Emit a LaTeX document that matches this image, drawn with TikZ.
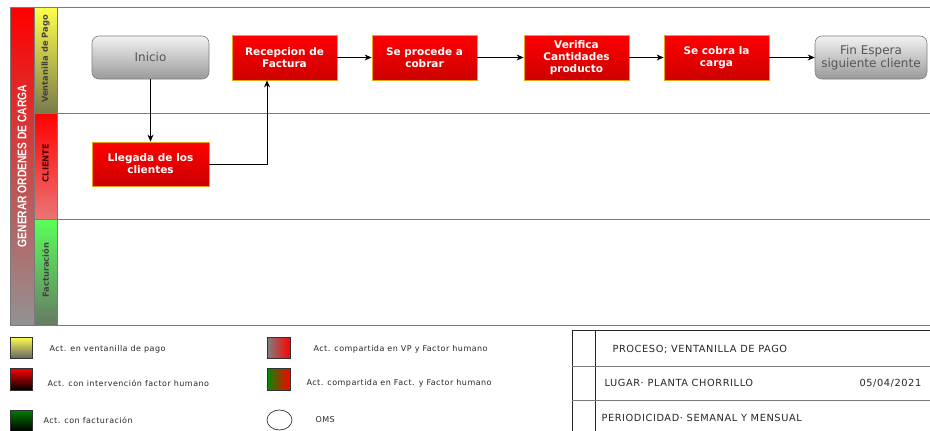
\documentclass[tikz,border=0pt]{standalone}
\usepackage{fontspec}
\setmainfont{DejaVu Sans}
\newfontfamily\headfont[FakeStretch=0.82]{Liberation Sans}
\newfontfamily\wideface[LetterSpace=6]{DejaVu Sans}
\usetikzlibrary{arrows.meta}

\definecolor{lanegrid}{HTML}{7A7A7A}
\definecolor{actred}{HTML}{FF0000}
\definecolor{actreddark}{HTML}{CC0000}
\definecolor{actborder}{HTML}{E8A317}
\definecolor{termtop}{HTML}{F2F2F2}
\definecolor{termbot}{HTML}{9A9A9A}
\definecolor{termtext}{HTML}{555555}

\begin{document}
\begin{tikzpicture}[x=1pt,y=-1pt,
  act/.style={draw=actborder, line width=0.8pt, top color=actred, bottom color=actreddark,
    text=white, font=\bfseries\fontsize{10.5}{12}\selectfont, align=center,
    minimum width=105pt, minimum height=45pt, inner sep=1pt},
  term/.style={draw=gray, line width=0.6pt, rounded corners=7pt, top color=termtop, bottom color=termbot,
    text=termtext, font=\fontsize{12}{13.5}\selectfont, align=center,
    minimum width=117pt, minimum height=43pt, inner sep=1pt},
  flow/.style={-{Stealth[length=7pt,width=6pt]}, line width=0.8pt, black},
  grid/.style={draw=lanegrid, line width=0.9pt},
  lanelabel/.style={rotate=90, font=\bfseries\fontsize{8.3}{10}\selectfont, text=black!75},
  legtext/.style={anchor=west, font=\wideface\fontsize{8}{9}\selectfont, text=black!85},
  tabtext/.style={anchor=west, font=\wideface\fontsize{9.8}{11}\selectfont, text=black!85},
  swatch/.style={draw=black!80, line width=0.6pt}
]
\useasboundingbox (0,0) rectangle (930,431);

% ---- pool header and lane headers ----
\shade[top color=red, bottom color=gray!85] (10,7) rectangle (34,325);
\shade[top color=yellow!70, bottom color=black!55!yellow!40!gray] (34,7) rectangle (57,113);
\shade[top color=red, bottom color=red!55!white!85!gray] (34,113) rectangle (57,219);
\shade[top color=green!65, bottom color=black!60!green!20!gray] (34,219) rectangle (57,325);

\node[rotate=90, text=white, font=\headfont\bfseries\fontsize{12.5}{13}\selectfont] (pool) at (22,166) {GENERAR ORDENES DE CARGA};
\node[lanelabel] (lvp) at (45.5,59) {Ventanilla de Pago};
\node[lanelabel, text=black!70!red] (lcl) at (45.5,163) {CLIENTE};
\node[lanelabel] (lfa) at (45.5,270) {Facturación};

% ---- lane lines ----
\draw[grid] (10,7) -- (930,7);
\draw[grid] (34,113) -- (930,113);
\draw[grid] (34,219) -- (930,219);
\draw[grid] (10,325) -- (930,325);
\draw[grid] (10,7) -- (10,325);
\draw[grid] (34,7) -- (34,325);
\draw[grid] (57,7) -- (57,325);

% ---- activities ----
\node[term] (inicio) at (150.5,57.5) {Inicio};
\node[act]  (recep)  at (284.5,57.5) {Recepcion de\\Factura};
\node[act]  (cobrar) at (424.5,57.5) {Se procede a\\cobrar};
\node[act]  (verif)  at (576.5,57.5) {Verifica\\Cantidades\\producto};
\node[act]  (cobra)  at (716.5,57.5) {Se cobra la\\carga};
\node[term, minimum width=112pt] (fin) at (871,57.5) {Fin Espera\\siguiente cliente};
\node[act, minimum width=117pt, minimum height=44pt] (lleg) at (150.5,164) {Llegada de los\\clientes};

% ---- connectors ----
\draw[flow] (inicio) -- (lleg);
\draw[flow] (lleg.east) -| ([xshift=-17.5pt]recep.south);
\draw[flow] (recep) -- (cobrar);
\draw[flow] (cobrar) -- (verif);
\draw[flow] (verif) -- (cobra);
\draw[flow] (cobra) -- (fin);

% ---- legend ----
\shade[swatch, top color=yellow!70, bottom color=gray!80!black] (10,337) rectangle (32,358);
\shade[swatch, top color=red, bottom color=black] (10,368) rectangle (32,390);
\shade[swatch, top color=green!50!black, bottom color=black] (10,410) rectangle (32,431);
\shade[swatch, left color=gray, right color=red] (267,337) rectangle (290,358);
\shade[swatch, left color=green!55!black, right color=red] (267,368) rectangle (290,390);
\draw[black!80, line width=0.7pt] (279.5,420) ellipse (12.5 and 10);

\node[legtext] (lg1) at (46,349) {Act. en ventanilla de pago};
\node[legtext] (lg2) at (44,383) {Act. con intervención factor humano};
\node[legtext] (lg3) at (40,420) {Act. con facturación};
\node[legtext] (lg4) at (310,349) {Act. compartida en VP y Factor humano};
\node[legtext] (lg5) at (303,383) {Act. compartida en Fact. y Factor humano};
\node[legtext] (lg6) at (312,420) {OMS};

% ---- process card ----
\draw[black!85, line width=0.7pt] (572,440) -- (572,330) -- (935,330);
\draw[black!85, line width=0.7pt] (595,330) -- (595,440);
\draw[lanegrid, line width=0.8pt] (572,366) -- (930,366);
\draw[lanegrid, line width=0.8pt] (572,400) -- (930,400);
\node[tabtext] (proc) at (609,349) {PROCESO; VENTANILLA DE PAGO};
\node[tabtext] (lug) at (601,383) {LUGAR· PLANTA CHORRILLO};
\node[tabtext] (fecha) at (856,383) {05/04/2021};
\node[tabtext] (per) at (598,418) {PERIODICIDAD· SEMANAL Y MENSUAL};
\end{tikzpicture}
\end{document}
